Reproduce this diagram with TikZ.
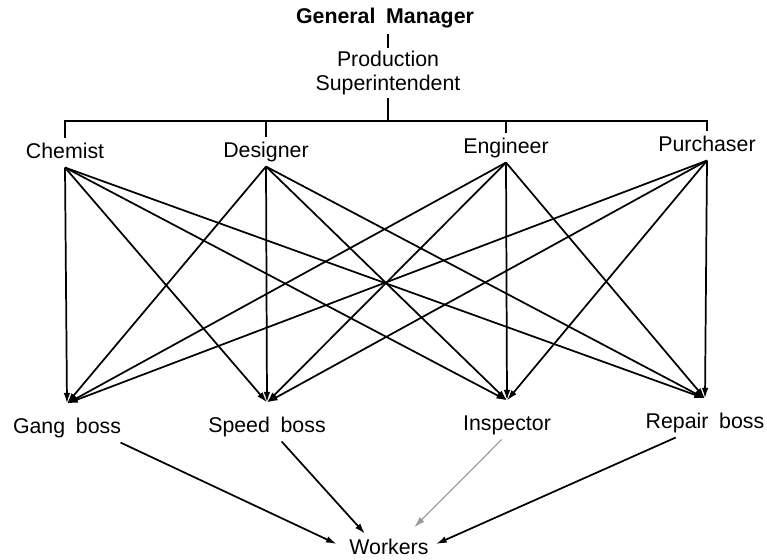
\documentclass[tikz,border=0pt]{standalone}
\usepackage{fontspec}
\setmainfont{Liberation Sans}[WordSpace=1.8]
\usetikzlibrary{arrows.meta}
\tikzset{
  every picture/.style={font=\fontsize{16}{18}\selectfont, line width=1.3pt},
  post/.style={inner sep=3pt, text height=11.5pt, text depth=3.5pt, anchor=base},
  boss/.style={post, text height=18.5pt},
  title/.style={post, font=\fontsize{16}{18}\selectfont\bfseries},
  arrow/.style={-{Latex[length=8pt, width=5pt]}, line width=1.3pt},
}

\begin{document}
\begin{tikzpicture}[x=0.75pt, y=-0.75pt]
  \useasboundingbox (0,0) rectangle (767,560);
  \node[title] (gm) at (385,24) {General Manager};
  \node[align=center, inner sep=2pt] (sup) at (388,73) {Production\\Superintendent};
  \node[post] (chem) at (65,158) {Chemist};
  \node[post] (des) at (266,157) {Designer};
  \node[post] (eng) at (506,153) {Engineer};
  \node[post] (pur) at (707,151) {Purchaser};
  \node[boss] (gang) at (67,433) {Gang boss};
  \node[boss] (speed) at (267,432) {Speed boss};
  \node[boss] (insp) at (507,430) {Inspector};
  \node[boss] (repair) at (705,428) {Repair boss};
  \node[post] (workers) at (389,554) {Workers};
  \coordinate (bar) at (388,121);
  \draw (sup.north |- gm.south) -- (sup.north);
  \draw (sup.south) -- (sup.south |- bar);
  \draw (chem.north) -- (chem.north |- bar) -- (pur.north |- bar) -- (pur.north);
  \foreach \n in {des, eng}
    \draw (\n.north) -- (\n.north |- bar);
  \foreach \a in {chem, des, eng, pur}
    \foreach \b in {gang, speed, insp, repair}
      \draw[arrow] (\a.south) -- (\b.north);
  \draw[arrow] ([xshift=-4pt]gang.south east) -- ([shift={(-6pt,3.5pt)}]workers.west);
  \draw[arrow] ([xshift=11pt]speed.south) -- ([xshift=-18pt]workers.north);
  \draw[arrow, draw=black!40, fill=black!40, line width=0.8pt] ([xshift=-4pt]insp.south) -- ([shift={(19pt,5pt)}]workers.north);
  \draw[arrow] ([xshift=-22pt]repair.south) -- ([shift={(2pt,3.5pt)}]workers.east);
\end{tikzpicture}
\end{document}
